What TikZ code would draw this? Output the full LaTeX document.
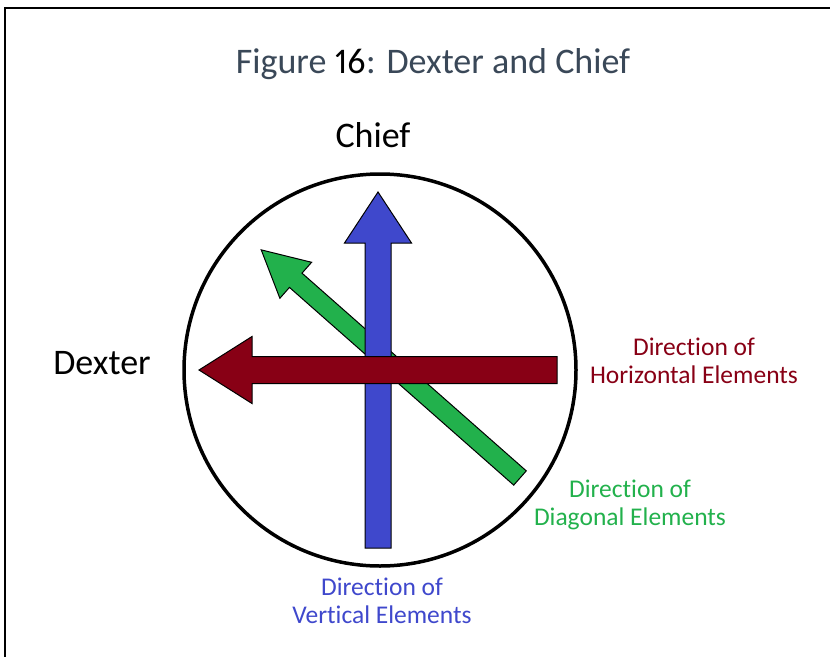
\documentclass[tikz,border=0pt]{standalone}
\usepackage{fontspec}
\setmainfont[Ligatures=NoCommon, Numbers=Proportional]{Carlito}
\usetikzlibrary{positioning}
\definecolor{chiefblue}{HTML}{3F48CC}
\definecolor{diaggreen}{HTML}{22B14C}
\definecolor{dexterred}{HTML}{880015}
\definecolor{titleslate}{HTML}{3A4858}
\newcommand{\blockarrow}[7]{%
  \begin{scope}[shift={#2}, rotate=#3]
    \filldraw[fill=#1, draw=black, line width=1pt]
      (0,-#5) -- (#4-#6,-#5) -- (#4-#6,-#7) -- (#4,0) -- (#4-#6,#7) -- (#4-#6,#5) -- (0,#5) -- cycle;
  \end{scope}}

\begin{document}
\begin{tikzpicture}[x=1pt, y=-1pt,
    big/.style={font=\fontsize{36}{40}\selectfont, anchor=base},
    label/.style={font=\fontsize{25.5}{27.5}\selectfont, align=center, anchor=base}]
    \useasboundingbox (0,0) rectangle (830,656);
    \draw[line width=2pt] (5,8) rectangle (850,680);

    % title and sides
    \node[big, text=titleslate] (title) at (433,73) {Figure {\color{black}16}: Dexter and Chief};
    \node[big] (chief) at (373,147) {Chief};
    \node[big] (dexter) at (102,374) {Dexter};

    % shield
    \draw[line width=3.5pt] (380,370) circle (196);

    % arrows
    \blockarrow{diaggreen}{(520,478)}{138.6}{345}{9.5}{46}{24}
    \blockarrow{chiefblue}{(378,548)}{90}{356}{13}{51}{33.5}
    \blockarrow{dexterred}{(557,370)}{180}{358}{13.5}{53}{33.5}

    % labels (base = last line)
    \node[label, text=dexterred] (horiz) at (694,383) {Direction of\\Horizontal Elements};
    \node[label, text=diaggreen] (diag) at (630,525) {Direction of\\Diagonal Elements};
    \node[label, text=chiefblue] (vert) at (382,623) {Direction of\\Vertical Elements};
\end{tikzpicture}
\end{document}
